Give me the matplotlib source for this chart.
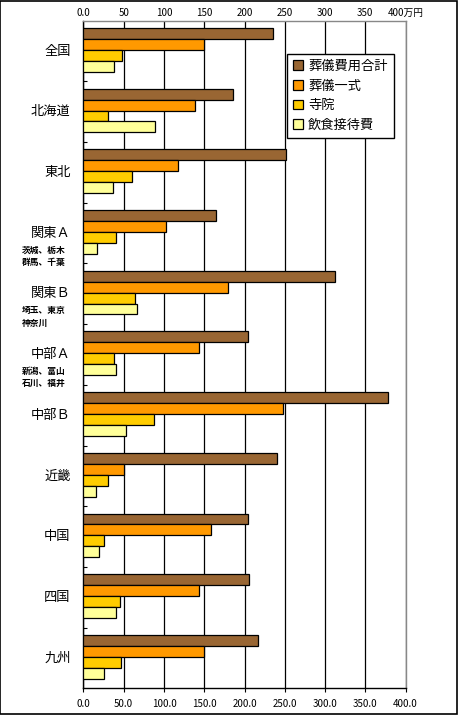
import matplotlib
matplotlib.use('Agg')
import matplotlib.pyplot as plt
from matplotlib.patches import Rectangle
import numpy as np

plt.rcParams['font.family'] = ['Noto Sans CJK JP', 'DejaVu Sans']

# regions, top to bottom
regions = ['全国', '北海道', '東北', '関東Ａ', '関東Ｂ', '中部Ａ', '中部Ｂ', '近畿', '中国', '四国', '九州']
sub_labels = {
    '関東Ａ': ['茨城、栃木', '群馬、千葉'],
    '関東Ｂ': ['埼玉、東京', '神奈川'],
    '中部Ａ': ['新潟、富山', '石川、福井'],
}

# values in 万円
total = [236, 186, 251, 165, 313, 204, 378, 240, 204, 206, 217]
ceremony = [150, 138, 118, 102, 179, 143, 248, 50, 158, 144, 150]
temple = [48, 30, 60, 40, 64, 38, 87, 30, 25, 45, 46]
catering = [38, 89, 37, 17, 66, 40, 53, 15, 19, 40, 26]

series_names = ['葬儀費用合計', '葬儀一式', '寺院', '飲食接待費']
series_colors = ['#996633', '#FF9900', '#FFCC00', '#FFFF99']

top_labels = ['0.0', '50', '100', '150', '200', '250', '300', '350', '400万円']
bottom_labels = ['0.0', '50.0', '100.0', '150.0', '200.0', '250.0', '300.0', '350.0', '400.0']

fig = plt.figure(figsize=(4.58, 7.15), dpi=100)
fig.patch.set_facecolor('white')
ax = fig.add_axes([0.1823, 0.0373, 0.7031, 0.9337])

n = len(regions)
starts = np.arange(n)
bar_h = 0.18
offsets = [0.21, 0.39, 0.57, 0.75]
for vals, name, col, off in zip([total, ceremony, temple, catering], series_names, series_colors, offsets):
    ax.barh(starts + off, vals, height=bar_h, color=col, edgecolor='black',
            linewidth=0.9, label=name, zorder=3)

ax.set_xlim(0, 400)
ax.set_ylim(n, 0)
ax.set_xticks(np.arange(0, 401, 50))
ax.set_xticklabels(bottom_labels, fontsize=7)
ax.tick_params(axis='x', direction='out', length=3, width=0.8, color='black', pad=5)
ax.grid(axis='x', color='black', linewidth=0.9, zorder=1)

# category ticks at group boundaries, labels at centres
ax.set_yticks(np.arange(1, n))
ax.set_yticklabels([])
ax.tick_params(axis='y', direction='in', length=3, width=0.8)
for i, r in enumerate(regions):
    ax.text(-16, i + 0.5, r, ha='right', va='center', fontsize=9.5)
    if r in sub_labels:
        for j, s in enumerate(sub_labels[r]):
            ax.text(-77, i + 0.78 + j * 0.2, s, ha='left', va='center',
                    fontsize=6.3, fontweight='bold')

for side in ['left', 'bottom']:
    ax.spines[side].set_color('black')
    ax.spines[side].set_linewidth(1.0)
for side in ['right', 'top']:
    ax.spines[side].set_color('#888888')
    ax.spines[side].set_linewidth(1.0)

top = ax.secondary_xaxis('top')
top.set_xticks(np.arange(0, 401, 50))
top.set_xticklabels(top_labels, fontsize=7)
top.tick_params(length=0, pad=2)
top.spines['top'].set_visible(False)

leg = ax.legend(loc='upper left', bbox_to_anchor=(0.6266, 0.9245),
                bbox_transform=fig.transFigure, fontsize=9.5, frameon=True,
                fancybox=False, edgecolor='black', framealpha=1,
                handlelength=0.75, handleheight=0.75, handletextpad=0.4,
                labelspacing=0.5, borderpad=0.45, borderaxespad=0)
leg.get_frame().set_linewidth(1.0)
leg.set_zorder(5)

# outer frame
fig.patches.append(Rectangle((0.001, 0.001), 0.997, 0.997, transform=fig.transFigure,
                             fill=False, edgecolor='black', linewidth=1.2))

fig.savefig('out.png', dpi=100)
